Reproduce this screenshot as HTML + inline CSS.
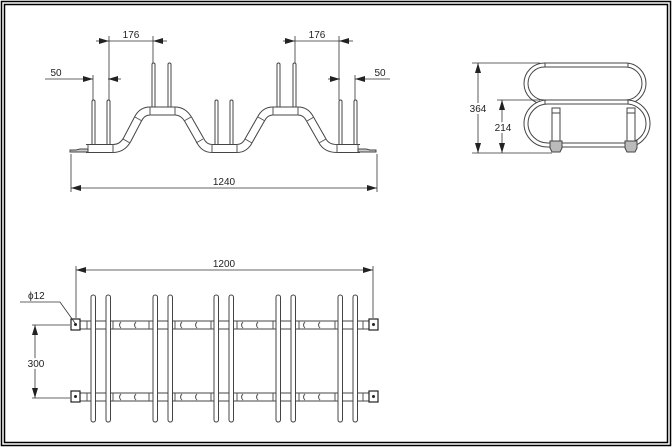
<!DOCTYPE html>
<html><head><meta charset="utf-8"><style>
html,body{margin:0;padding:0;background:#fff;}
svg{display:block;}
text{font-family:"Liberation Sans",sans-serif;font-size:10px;fill:#222;}
</style></head><body>
<svg width="672" height="448" viewBox="0 0 672 448" xmlns="http://www.w3.org/2000/svg">
<defs>
<marker id="a" viewBox="0 0 10 6" refX="10" refY="3" markerWidth="10" markerHeight="6" orient="auto-start-reverse" markerUnits="userSpaceOnUse"><path d="M0,0 L10,3 L0,6z" fill="#222"/></marker>
</defs>
<rect x="1.5" y="1.5" width="669" height="444" fill="none" stroke="#000" stroke-width="1.5"/>
<rect x="4.5" y="4.5" width="663" height="438" fill="none" stroke="#000" stroke-width="1.5"/>

<!-- FRONT VIEW -->
<g stroke="#333" stroke-width="1" fill="none">
<!-- posts -->
<g fill="#fff" stroke="#444">
<rect x="92" y="100" width="3" height="47" rx="1.5"/><rect x="107" y="100" width="3" height="47" rx="1.5"/>
<rect x="152" y="63" width="3" height="47" rx="1.5"/><rect x="168" y="63" width="3" height="47" rx="1.5"/>
<rect x="215" y="100" width="3" height="47" rx="1.5"/><rect x="230" y="100" width="3" height="47" rx="1.5"/>
<rect x="277" y="63" width="3" height="47" rx="1.5"/><rect x="293" y="63" width="3" height="47" rx="1.5"/>
<rect x="339" y="100" width="3" height="47" rx="1.5"/><rect x="354" y="100" width="3" height="47" rx="1.5"/>
</g>
<path d="M86,148.5 L113,148.5 Q122,148.5 127,140 L138,119 Q142,111 150,111 L175,111 Q183,111 188,119 L200,140 Q204,148.5 212,148.5 L237,148.5 Q245,148.5 249,140 L261,119 Q265,111 273,111 L298,111 Q306,111 310,119 L322,140 Q326,148.5 337,148.5 L360,148.5" stroke="#444" stroke-width="9" stroke-linejoin="round"/>
<path d="M86,148.5 L113,148.5 Q122,148.5 127,140 L138,119 Q142,111 150,111 L175,111 Q183,111 188,119 L200,140 Q204,148.5 212,148.5 L237,148.5 Q245,148.5 249,140 L261,119 Q265,111 273,111 L298,111 Q306,111 310,119 L322,140 Q326,148.5 337,148.5 L360,148.5" stroke="#fff" stroke-width="7" stroke-linejoin="round"/>
<g stroke="#555">
<line x1="88" y1="144" x2="88" y2="153"/><line x1="113" y1="144" x2="113" y2="153"/>
<line x1="150" y1="106.5" x2="150" y2="115.5"/><line x1="175" y1="106.5" x2="175" y2="115.5"/>
<line x1="212" y1="144" x2="212" y2="153"/><line x1="237" y1="144" x2="237" y2="153"/>
<line x1="273" y1="106.5" x2="273" y2="115.5"/><line x1="298" y1="106.5" x2="298" y2="115.5"/>
<line x1="337" y1="144" x2="337" y2="153"/><line x1="358" y1="144" x2="358" y2="153"/>
<line x1="123" y1="139" x2="130" y2="143"/><line x1="135" y1="117" x2="142" y2="121"/>
<line x1="184" y1="121" x2="191" y2="117"/><line x1="196" y1="143" x2="203" y2="139"/>
<line x1="245" y1="139" x2="252" y2="143"/><line x1="258" y1="117" x2="265" y2="121"/>
<line x1="307" y1="121" x2="314" y2="117"/><line x1="319" y1="143" x2="326" y2="139"/>
</g>
<path d="M70,152 L88,152 L88,149 L80,149 L76,150 L70,150z" fill="#ccc" stroke="#444"/>
<path d="M376,152 L358,152 L358,149 L366,149 L370,150 L376,150z" fill="#ccc" stroke="#444"/>
</g>
<!-- front dims -->
<g stroke="#333" stroke-width="0.8" fill="none">
<line x1="109" y1="36" x2="109" y2="100"/><line x1="153" y1="36" x2="153" y2="63"/>
<line x1="96" y1="41" x2="109" y2="41" marker-end="url(#a)"/><line x1="109" y1="41" x2="153" y2="41"/><line x1="167" y1="41" x2="153" y2="41" marker-end="url(#a)"/>
<line x1="93" y1="75" x2="93" y2="100"/>
<line x1="45" y1="79" x2="93" y2="79" marker-end="url(#a)"/><line x1="121" y1="79" x2="108" y2="79" marker-end="url(#a)"/>
<line x1="295" y1="36" x2="295" y2="63"/><line x1="339" y1="36" x2="339" y2="100"/>
<line x1="283" y1="41" x2="295" y2="41" marker-end="url(#a)"/><line x1="295" y1="41" x2="339" y2="41"/><line x1="353" y1="41" x2="339" y2="41" marker-end="url(#a)"/>
<line x1="355" y1="75" x2="355" y2="100"/>
<line x1="328" y1="79" x2="340" y2="79" marker-end="url(#a)"/><line x1="390" y1="79" x2="355" y2="79" marker-end="url(#a)"/>
<line x1="71" y1="154" x2="71" y2="192"/><line x1="377" y1="154" x2="377" y2="192"/>
<line x1="71" y1="188" x2="377" y2="188" marker-start="url(#a)" marker-end="url(#a)"/>
</g>
<text x="131" y="38" text-anchor="middle">176</text>
<text x="317" y="38" text-anchor="middle">176</text>
<text x="56" y="76" text-anchor="middle">50</text>
<text x="380" y="76" text-anchor="middle">50</text>
<text x="224" y="185" text-anchor="middle">1240</text>

<!-- SIDE VIEW -->
<g fill="none" stroke="#444" stroke-width="1">
<rect x="524" y="63" width="122" height="41" rx="20.5"/>
<rect x="528" y="67" width="114" height="33" rx="16.5"/>
<rect x="524" y="100" width="126" height="47" rx="23.5" fill="#fff"/>
<rect x="528" y="104" width="118" height="39" rx="19.5"/>
<line x1="545" y1="63" x2="545" y2="67"/><line x1="628" y1="63" x2="628" y2="67"/>
<line x1="545" y1="100" x2="545" y2="104"/><line x1="628" y1="100" x2="628" y2="104"/>
<rect x="552" y="108" width="8" height="33" fill="#fff"/>
<rect x="627" y="108" width="8" height="33" fill="#fff"/>
<line x1="552" y1="113" x2="560" y2="113"/><line x1="627" y1="113" x2="635" y2="113"/>
<path d="M550,141 h12 v7 l-2,4 h-8 l-2,-4z" fill="#bbb"/>
<path d="M625,141 h12 v7 l-2,4 h-8 l-2,-4z" fill="#bbb"/>
</g>
<g stroke="#333" stroke-width="0.8" fill="none">
<line x1="472" y1="63" x2="540" y2="63"/><line x1="497" y1="100" x2="540" y2="100"/><line x1="472" y1="153" x2="552" y2="153"/>
<line x1="478" y1="63" x2="478" y2="153" marker-start="url(#a)" marker-end="url(#a)"/>
<line x1="502" y1="100" x2="502" y2="153" marker-start="url(#a)" marker-end="url(#a)"/>
</g>
<text x="478" y="112" text-anchor="middle" style="paint-order:stroke;stroke:#fff;stroke-width:4">364</text>
<text x="503" y="131" text-anchor="middle" style="paint-order:stroke;stroke:#fff;stroke-width:4">214</text>

<!-- TOP VIEW -->
<g fill="none" stroke="#444" stroke-width="1">
<g>
<path d="M79,325 L372,325" stroke="#444" stroke-width="9"/>
<path d="M79,325 L372,325" stroke="#fff" stroke-width="7"/>
<path d="M79,397 L372,397" stroke="#444" stroke-width="9"/>
<path d="M79,397 L372,397" stroke="#fff" stroke-width="7"/>
</g>
<g stroke="#555">
<path d="M121,322 q-3,3 0,6 M136,322 q-3,3 0,6 M182,322 q-3,3 0,6 M197,322 q-3,3 0,6 M243,322 q-3,3 0,6 M258,322 q-3,3 0,6 M305,322 q-3,3 0,6 M320,322 q-3,3 0,6"/>
<path d="M121,394 q-3,3 0,6 M136,394 q-3,3 0,6 M182,394 q-3,3 0,6 M197,394 q-3,3 0,6 M243,394 q-3,3 0,6 M258,394 q-3,3 0,6 M305,394 q-3,3 0,6 M320,394 q-3,3 0,6"/>
<path d="M113,321 v8 M149,321 v8 M175,321 v8 M211,321 v8 M237,321 v8 M273,321 v8 M299,321 v8 M335,321 v8 M87,321 v8 M363,321 v8"/>
<path d="M113,393 v8 M149,393 v8 M175,393 v8 M211,393 v8 M237,393 v8 M273,393 v8 M299,393 v8 M335,393 v8 M87,393 v8 M363,393 v8"/>
</g>
<g fill="#fff">
<rect x="91" y="295" width="4.5" height="127" rx="2.2"/><rect x="106" y="295" width="4.5" height="127" rx="2.2"/>
<rect x="153" y="295" width="4.5" height="127" rx="2.2"/><rect x="168" y="295" width="4.5" height="127" rx="2.2"/>
<rect x="214" y="295" width="4.5" height="127" rx="2.2"/><rect x="229" y="295" width="4.5" height="127" rx="2.2"/>
<rect x="276" y="295" width="4.5" height="127" rx="2.2"/><rect x="291" y="295" width="4.5" height="127" rx="2.2"/>
<rect x="338" y="295" width="4.5" height="127" rx="2.2"/><rect x="353" y="295" width="4.5" height="127" rx="2.2"/>
</g>
<g fill="#fff" stroke="#222" stroke-width="1.2">
<rect x="71" y="319" width="9" height="11"/><rect x="369" y="319" width="9" height="11"/>
<rect x="71" y="391" width="9" height="11"/><rect x="369" y="391" width="9" height="11"/>
</g>
<g fill="#222" stroke="none">
<circle cx="75.5" cy="324.5" r="1.5"/><circle cx="373.5" cy="324.5" r="1.5"/>
<circle cx="75.5" cy="396.5" r="1.5"/><circle cx="373.5" cy="396.5" r="1.5"/>
</g>
</g>
<g stroke="#333" stroke-width="0.8" fill="none">
<line x1="76" y1="266" x2="76" y2="318"/><line x1="373" y1="266" x2="373" y2="318"/>
<line x1="76" y1="270" x2="373" y2="270" marker-start="url(#a)" marker-end="url(#a)"/>
<line x1="32" y1="325" x2="70" y2="325"/><line x1="32" y1="398" x2="70" y2="398"/>
<line x1="35" y1="325" x2="35" y2="398" marker-start="url(#a)" marker-end="url(#a)"/>
<polyline points="20,302 60,302 75,323"/>
</g>
<text x="224" y="267" text-anchor="middle">1200</text>
<text x="36" y="367" text-anchor="middle" style="paint-order:stroke;stroke:#fff;stroke-width:4">300</text>
<text x="28" y="299">ϕ12</text>
</svg>
</body></html>
